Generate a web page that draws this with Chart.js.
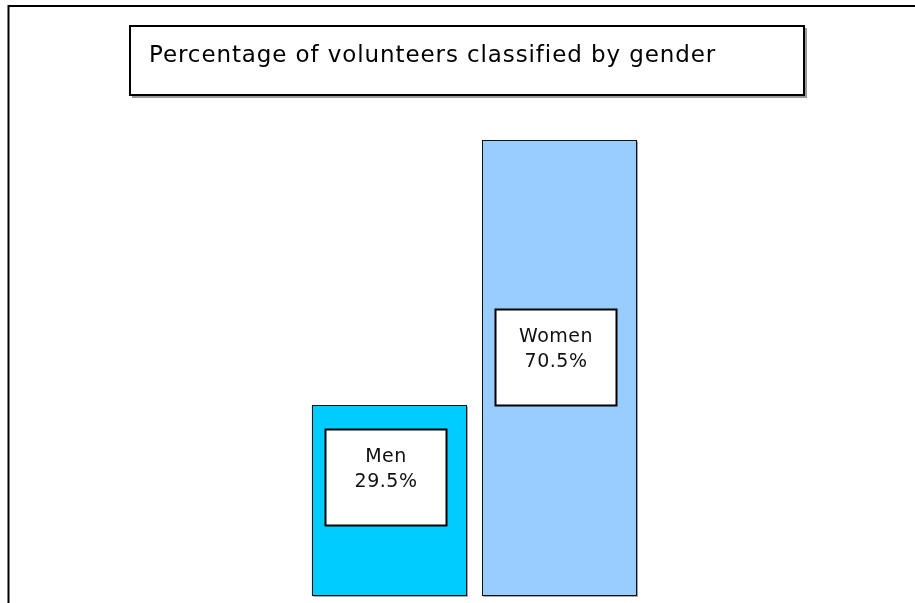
<!DOCTYPE html>
<html>
<head>
<meta charset="utf-8">
<script src="https://cdn.jsdelivr.net/npm/chart.js@4/dist/chart.umd.min.js"></script>
<style>
  html, body { margin: 0; padding: 0; background: #fff; overflow: hidden; }
  #wrap { width: 915px; height: 603px; position: relative; }
</style>
</head>
<body>
<div id="wrap"><canvas id="chart" width="915" height="603"></canvas></div>
<script>
// ─── Data ────────────────────────────────────────────────────────────────────

const TITLE      = 'Percentage of volunteers classified by gender';
const categories = ['Men', 'Women'];
const percents   = [29.5, 70.5];
const barColors  = ['#00ccff', '#99ccff'];
// where each white label box sits (centre, in % units)
const labelPos   = [18.4, 36.95];

const FONT = '"DejaVu Sans", Verdana, sans-serif';

// ─── Frame + title box ───────────────────────────────────────────────────────

const framePlugin = {
  id: 'frame',
  beforeDraw(chart) {
    const ctx = chart.ctx;
    ctx.save();
    ctx.strokeStyle = '#000';
    ctx.lineWidth = 2;
    ctx.beginPath();
    ctx.moveTo(8.5, 603);
    ctx.lineTo(8.5, 6);
    ctx.lineTo(915, 6);
    ctx.stroke();

    // title box with a little drop shadow
    ctx.fillStyle = '#9a9a9a';
    ctx.fillRect(132, 28, 675, 70);
    ctx.fillStyle = '#fff';
    ctx.fillRect(130, 26, 674, 69);
    ctx.strokeStyle = '#000';
    ctx.strokeRect(130, 26, 674, 69);

    ctx.fillStyle = '#000';
    ctx.font = '23px ' + FONT;
    ctx.letterSpacing = '0.9px';
    ctx.textBaseline = 'alphabetic';
    ctx.fillText(TITLE, 149, 62);
    ctx.restore();
  },
};

// ─── Bar outline/shadow + label boxes ────────────────────────────────────────

const barDecor = {
  id: 'barDecor',
  afterDatasetsDraw(chart) {
    const ctx = chart.ctx;
    const meta = chart.getDatasetMeta(0);
    const y = chart.scales.y;
    ctx.save();
    meta.data.forEach((bar, i) => {
      const bl = Math.round(bar.x - bar.width / 2) + 0.5;
      const br = Math.round(bar.x + bar.width / 2) - 0.5;
      const bt = Math.round(bar.y) + 0.5;
      const bb = Math.round(bar.base) - 0.5;
      ctx.lineWidth = 1;
      ctx.strokeStyle = 'rgba(0,0,0,0.35)';
      ctx.beginPath();
      ctx.moveTo(br + 1, bt + 1);
      ctx.lineTo(br + 1, bb + 1);
      ctx.lineTo(bl + 1, bb + 1);
      ctx.stroke();
      ctx.strokeStyle = '#111';
      ctx.strokeRect(bl, bt, br - bl, bb - bt);

      // white label box, sitting a touch left of the bar centre
      const cx = bar.x - 4;
      const cy = y.getPixelForValue(labelPos[i]);
      const w = 121, h = 96;
      const left = Math.round(cx - w / 2) + 0.5;
      const top = Math.round(cy - h / 2) + 0.5;
      ctx.fillStyle = '#fff';
      ctx.fillRect(left, top, w, h);
      ctx.strokeStyle = '#000';
      ctx.lineWidth = 2;
      ctx.strokeRect(left, top, w, h);
      ctx.fillStyle = '#111';
      ctx.font = '19px ' + FONT;
      ctx.letterSpacing = '0.5px';
      ctx.textAlign = 'center';
      ctx.fillText(categories[i], left + w / 2, top + 32);
      ctx.fillText(percents[i].toFixed(1) + '%', left + w / 2, top + 57.5);
    });
    ctx.restore();
  },
};

// ─── Chart ───────────────────────────────────────────────────────────────────

new Chart(document.getElementById('chart'), {
  type: 'bar',
  data: {
    labels: categories,
    datasets: [{
      data: percents,
      backgroundColor: barColors,
      borderWidth: 0,
      categoryPercentage: 1,
      barPercentage: 0.908,
    }],
  },
  options: {
    responsive: false,
    animation: false,
    layout: { padding: { top: 140, bottom: 7, left: 304, right: 270 } },
    plugins: {
      legend: { display: false },
      tooltip: { enabled: false },
    },
    scales: {
      x: { display: false },
      y: { display: false, min: 0, max: 70.5 },
    },
  },
  plugins: [framePlugin, barDecor],
});
</script>
</body>
</html>
